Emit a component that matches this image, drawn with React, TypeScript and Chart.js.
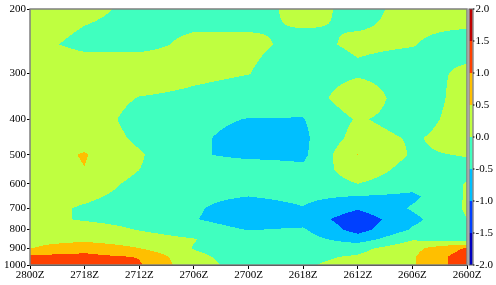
import { useEffect, useRef } from 'react';
import { Chart, registerables } from 'chart.js';
Chart.register(...registerables);

// Time axis (left = 28th 00Z, right = 26th 00Z), 6-hourly
const timeLabels = ['2800Z', '2718Z', '2712Z', '2706Z', '2700Z', '2618Z', '2612Z', '2606Z', '2600Z'];
const timeHours = [0, 6, 12, 18, 24, 30, 36, 42, 48];
// Pressure levels (hPa)
const levels = [200, 250, 300, 350, 400, 450, 500, 550, 600, 650, 700, 750, 800, 850, 900, 950, 1000];
const yTicks = [200, 300, 400, 500, 600, 700, 800, 900, 1000];
// Contour levels and band colours
const contourLevels = [-2, -1.5, -1, -0.5, 0, 0.5, 1, 1.5, 2];
const bandColors = ['#0000bf', '#0040ff', '#00bfff', '#40ffbf', '#bfff40', '#ffbf00', '#ff4000', '#bf0000'];
const colorbarLabels = ['2.0', '1.5', '1.0', '0.5', '0.0', '-0.5', '-1.0', '-1.5', '-2.0'];

// Field values per level, columns follow timeLabels
const p200 = [0.2, 0.07, -0.065, -0.15, -0.15, 0.12, -0.1, 0.1, 0.25];
const p250 = [0.09, -0.08, -0.1, 0.08, 0.08, -0.1, 0.06, 0.02, -0.2];
const p300 = [0.25, 0.23, 0.28, 0.1, 0.01, -0.25, -0.07, -0.2, 0.1];
const p350 = [0.3, 0.3, -0.02, -0.1, -0.2, -0.3, 0.35, -0.31, 0.2];
const p400 = [0.3, 0.3, -0.2, -0.35, -0.52, -0.52, 0.05, -0.2, 0.2];
const p450 = [0.3, 0.35, -0.1, -0.4, -0.7, -0.6, 0.2, -0.05, 0.2];
const p500 = [0.3, 0.53, 0.05, -0.45, -0.6, -0.6, 0.51, -0.05, 0.02];
const p550 = [0.3, 0.49, 0.0, -0.3, -0.25, -0.4, 0.3, -0.2, -0.1];
const p600 = [0.3, 0.3, -0.15, -0.3, -0.3, -0.35, 0.0, -0.3, 0.02];
const p650 = [0.25, 0.1, -0.2, -0.4, -0.5, -0.4, -0.52, -0.6, 0.05];
const p700 = [0.2, -0.06, -0.25, -0.45, -0.7, -0.52, -0.95, -0.45, 0.05];
const p750 = [0.2, -0.06, -0.2, -0.48, -0.7, -0.7, -1.3, -0.62, 0.0];
const p800 = [0.2, 0.27, -0.03, -0.3, -0.52, -0.45, -1.2, -0.45, -0.15];
const p850 = [0.35, 0.35, 0.25, 0.02, -0.3, -0.3, -0.75, -0.05, -0.3];
const p900 = [0.48, 0.83, 0.5, -0.02, -0.25, -0.25, -0.15, 0.35, 1.05];
const p950 = [1.15, 1.13, 0.98, 0.1, -0.2, -0.1, 0.05, 0.45, 1.3];
const p1000 = [1.3, 1.3, 1.05, 0.16, -0.17, -0.05, 0.15, 0.45, 1.3];

const FONT = { family: '"Liberation Serif", "Times New Roman", serif', size: 11 };

function hexToRgb(h: string) {
  return [parseInt(h.slice(1, 3), 16), parseInt(h.slice(3, 5), 16), parseInt(h.slice(5, 7), 16)];
}

export default function App() {
  const ref = useRef<HTMLCanvasElement>(null);
  useEffect(() => {
    const grid = [p200, p250, p300, p350, p400, p450, p500, p550, p600, p650, p700, p750, p800, p850, p900, p950, p1000];
    const rgb = bandColors.map(hexToRgb);

    const fieldPlugin = {
      id: 'field',
      beforeDatasetsDraw(chart: any) {
        const { ctx, chartArea: a, scales } = chart;
        const xs = scales.x, ys = scales.y;
        const L = Math.round(a.left), T = Math.round(a.top), R = Math.round(a.right), B = Math.round(a.bottom);
        const w = R - L, h = B - T;
        const img = ctx.createImageData(w, h);
        const ci = new Float64Array(w);
        for (let i = 0; i < w; i++) {
          const hv = xs.getValueForPixel(L + i + 0.5);
          let k = 0;
          while (k < timeHours.length - 2 && hv > timeHours[k + 1]) k++;
          let t = (hv - timeHours[k]) / (timeHours[k + 1] - timeHours[k]);
          t = Math.max(0, Math.min(1, t));
          ci[i] = k + t;
        }
        const lnL = levels.map(Math.log);
        for (let j = 0; j < h; j++) {
          const pv = ys.getValueForPixel(T + j + 0.5);
          const lp = Math.log(pv);
          let r = 0;
          while (r < levels.length - 2 && lp > lnL[r + 1]) r++;
          let u = (lp - lnL[r]) / (lnL[r + 1] - lnL[r]);
          u = Math.max(0, Math.min(1, u));
          const row0 = grid[r], row1 = grid[r + 1];
          for (let i = 0; i < w; i++) {
            const c = Math.min(Math.floor(ci[i]), timeHours.length - 2);
            const t = ci[i] - c;
            const v0 = row0[c] * (1 - t) + row0[c + 1] * t;
            const v1 = row1[c] * (1 - t) + row1[c + 1] * t;
            const v = v0 * (1 - u) + v1 * u;
            let b = 0;
            while (b < bandColors.length - 1 && v >= contourLevels[b + 1]) b++;
            const col = rgb[b];
            const o = (j * w + i) * 4;
            img.data[o] = col[0];
            img.data[o + 1] = col[1];
            img.data[o + 2] = col[2];
            img.data[o + 3] = 255;
          }
        }
        ctx.putImageData(img, L, T);
      },
      afterDraw(chart: any) {
        const { ctx, chartArea: a } = chart;
        ctx.save();
        // frame
        ctx.strokeStyle = '#808080';
        ctx.lineWidth = 1.5;
        ctx.strokeRect(a.left, a.top, a.right - a.left, a.bottom - a.top);
        // colorbar
        const cbx = a.right + 2.5, cbw = 3;
        const n = bandColors.length;
        const bh = (a.bottom - a.top) / n;
        for (let k = 0; k < n; k++) {
          ctx.fillStyle = bandColors[n - 1 - k];
          ctx.fillRect(cbx, a.top + k * bh, cbw, bh);
        }
        ctx.strokeStyle = '#555';
        ctx.lineWidth = 1;
        ctx.strokeRect(cbx - 0.5, a.top, cbw + 1, a.bottom - a.top);
        ctx.fillStyle = '#000';
        ctx.font = `${FONT.size}px ${FONT.family}`;
        ctx.textAlign = 'left';
        ctx.textBaseline = 'middle';
        colorbarLabels.forEach((lab, k) => {
          const yy = a.top + k * bh;
          ctx.beginPath();
          ctx.moveTo(cbx + cbw + 0.5, yy);
          ctx.lineTo(cbx + cbw + 2, yy);
          ctx.strokeStyle = '#000';
          ctx.stroke();
          ctx.fillText(lab, cbx + cbw + 3, yy);
        });
        ctx.restore();
      },
    };

    const chart = new Chart(ref.current as HTMLCanvasElement, {
      type: 'scatter',
      data: { datasets: [{ data: [] }] },
      options: {
        responsive: false,
        animation: false,
        events: [],
        layout: { padding: { top: 9, right: 29, left: 0, bottom: 0 } },
        plugins: { legend: { display: false }, tooltip: { enabled: false } },
        scales: {
          x: {
            type: 'linear',
            min: timeHours[0],
            max: timeHours[timeHours.length - 1],
            afterBuildTicks: (s: any) => { s.ticks = timeHours.map((v) => ({ value: v })); },
            afterFit: (s: any) => { s.height = 20; },
            ticks: {
              autoSkip: false,
              maxRotation: 0,
              padding: 0,
              color: '#000',
              font: FONT,
              callback: (v: any) => timeLabels[timeHours.indexOf(Number(v))],
            },
            grid: { display: true, drawOnChartArea: false, tickLength: 4, color: '#000' },
            border: { display: true, color: '#000' },
          },
          y: {
            type: 'logarithmic',
            reverse: true,
            min: 200,
            max: 1000,
            afterBuildTicks: (s: any) => { s.ticks = yTicks.map((v) => ({ value: v })); },
            afterFit: (s: any) => { s.width = 30; },
            ticks: {
              autoSkip: false,
              padding: 1,
              color: '#000',
              font: FONT,
              callback: (v: any) => String(v),
            },
            grid: { display: true, drawOnChartArea: false, tickLength: 3, color: '#000' },
            border: { display: true, color: '#000' },
          },
        },
      } as any,
      plugins: [fieldPlugin],
    });
    return () => chart.destroy();
  }, []);
  return (
    <div style={{ position: 'absolute', left: 0, top: 0, width: 496, height: 285, background: '#fff' }}>
      <canvas ref={ref} width={496} height={285} style={{ display: 'block' }} />
    </div>
  );
}
